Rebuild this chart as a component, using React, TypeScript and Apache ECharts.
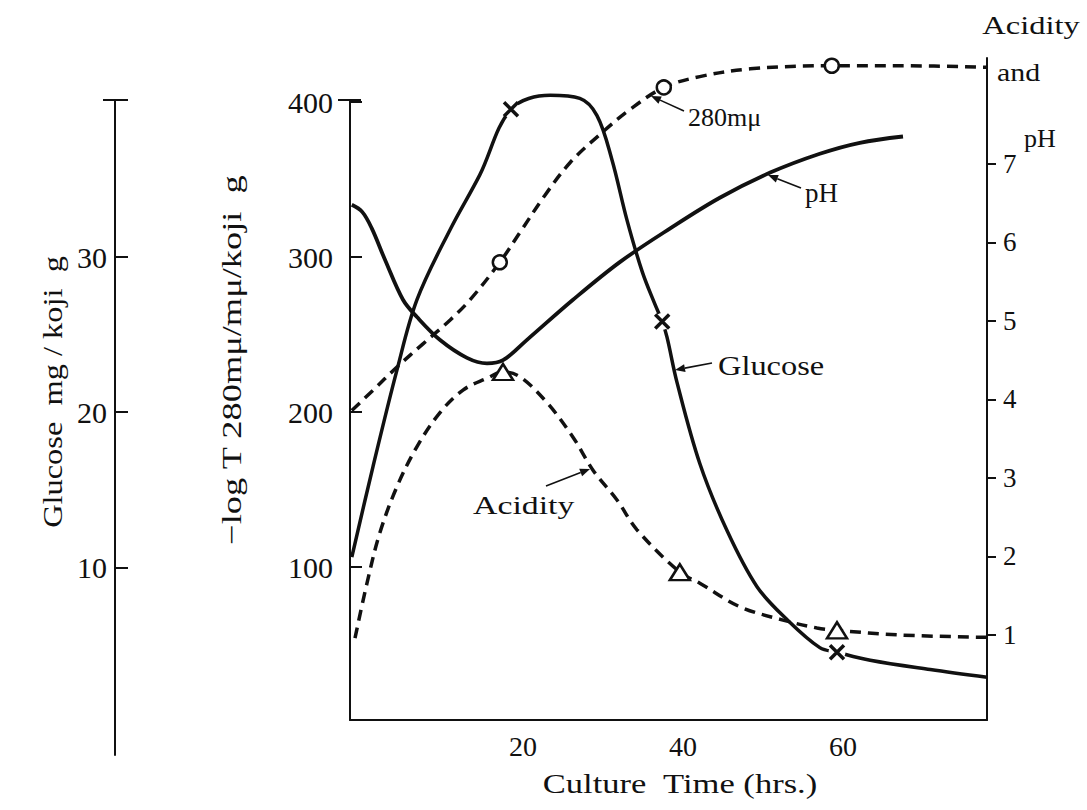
import React, { useEffect, useRef } from "react";
import * as echarts from "echarts";

// ---- data (culture time in hours, value) ----
const glucoseCurve: number[][] = [
  [-1.4, 10.64], [1.25, 16.48], [4.25, 22.72], [6.75, 27.25], [10.9, 31.78], [14.6, 35.3],
  [18.5, 39.53], [23.4, 40.43], [27.1, 40.23], [29.25, 39.12], [31.1, 36.31], [33.0, 32.38],
  [34.9, 29.06], [36.5, 26.94], [37.4, 25.84], [38.0, 24.83], [39.25, 21.91], [42.1, 16.68],
  [45.5, 12.35], [49.25, 8.73], [53.0, 6.61], [57.1, 4.8], [59.25, 4.5], [63.4, 3.99],
  [70.9, 3.39], [78.0, 2.89],
];
const glucoseMarks: number[][] = [[18.5, 39.53], [37.4, 25.84], [59.25, 4.5]];

const absorbCurve: number[][] = [
  [-1.4, 201], [1.25, 214], [4.25, 229], [7.5, 244], [10.9, 259.4], [13.4, 272.5],
  [17.1, 296.6], [19.6, 315.7], [22.75, 339.9], [25.9, 361], [29.6, 379], [33.4, 395.3],
  [37.6, 409.4], [42.1, 416.4], [48.4, 421.4], [58.6, 423.4], [67.1, 423.4], [78.0, 422.4],
];
const absorbMarks: number[][] = [[17.1, 296.6], [37.6, 409.4], [58.6, 423.4]];

const phCurve: number[][] = [
  [-1.4, 6.48], [-0.1, 6.39], [1.1, 6.18], [2.75, 5.78], [5.0, 5.27], [6.75, 5.05],
  [9.6, 4.76], [13.0, 4.53], [15.5, 4.46], [17.5, 4.5], [20.5, 4.76], [26.25, 5.27],
  [32.1, 5.75], [38.4, 6.18], [44.6, 6.57], [50.9, 6.89], [57.1, 7.13], [62.1, 7.27],
  [67.5, 7.35],
];

const acidityCurve: number[][] = [
  [-1.0, 0.96], [0.5, 1.66], [2.1, 2.3], [4.25, 2.89], [6.75, 3.4], [9.6, 3.83],
  [12.5, 4.12], [15.5, 4.27], [17.5, 4.35], [19.6, 4.29], [23.0, 3.96], [26.25, 3.52],
  [28.75, 3.1], [31.75, 2.72], [34.25, 2.34], [39.6, 1.8], [42.1, 1.66], [47.1, 1.36],
  [52.5, 1.19], [56.75, 1.09], [59.25, 1.06], [67.1, 1.0], [78.0, 0.97],
];
const acidityMarks: number[][] = [[17.5, 4.35], [39.6, 1.8], [59.25, 1.06]];

const xTickLabels = [20, 40, 60];
const absorbTicks = [100, 200, 300, 400];
const glucoseTicks = [10, 20, 30];
const phTicks = [1, 2, 3, 4, 5, 6, 7];

const FONT = "'Liberation Serif', 'DejaVu Serif', serif";
const INK = "#111";

function arrow(x1: number, y1: number, x2: number, y2: number) {
  const ang = Math.atan2(y2 - y1, x2 - x1);
  const L = 10, W = 4;
  const bx = x2 - L * Math.cos(ang), by = y2 - L * Math.sin(ang);
  const px = -Math.sin(ang) * W, py = Math.cos(ang) * W;
  return [
    { type: "line", shape: { x1, y1, x2: bx, y2: by }, style: { stroke: INK, lineWidth: 1.6 } },
    { type: "polygon", shape: { points: [[x2, y2], [bx + px, by + py], [bx - px, by - py]] }, style: { fill: INK } },
  ];
}

function txt(x: number, y: number, text: string, size: number, extra: any = {}) {
  const { style, ...rest } = extra;
  return {
    type: "text", x, y, ...rest,
    style: { text, fontSize: size, fontFamily: FONT, fill: INK, align: "center", verticalAlign: "middle", ...(style || {}) },
  };
}

export default function App() {
  const ref = useRef<HTMLDivElement>(null);
  useEffect(() => {
    if (!ref.current) return;
    const chart = echarts.init(ref.current, undefined, { renderer: "svg" });
    const axisLine = { show: true, onZero: false, lineStyle: { color: INK, width: 2 } };
    const label = (size: number, extra: any = {}) => ({ color: INK, fontFamily: FONT, fontSize: size, ...extra });
    chart.setOption({
      animation: false,
      backgroundColor: "#fff",
      grid: [
        { left: 350, right: 100, top: 58, bottom: 90 },
        { left: 350, right: 100, top: 100, bottom: 90 },
        { left: 115, width: 20, top: 100, bottom: 55 },
      ],
      xAxis: [
        {
          gridIndex: 0, type: "value", min: -1.625, max: 78,
          axisLine, axisTick: { show: false }, splitLine: { show: false },
          axisLabel: label(28, { customValues: xTickLabels, margin: 12 }),
        },
        { gridIndex: 1, type: "value", min: -1.625, max: 78, show: false },
        { gridIndex: 2, type: "value", min: 0, max: 1, show: false },
      ],
      yAxis: [
        {
          gridIndex: 0, type: "value", position: "right", min: -0.083, max: 8.35,
          axisLine, splitLine: { show: false },
          axisTick: { show: true, customValues: phTicks, length: 9, lineStyle: { color: INK, width: 2 } },
          axisLabel: label(27, { customValues: phTicks, margin: 16 }),
        },
        {
          gridIndex: 1, type: "value", position: "left", min: 1.3, max: 401.3,
          axisLine, splitLine: { show: false },
          axisTick: { show: true, inside: true, customValues: absorbTicks, length: 12, lineStyle: { color: INK, width: 2 } },
          axisLabel: label(30, { customValues: absorbTicks, margin: 17 }),
        },
        { gridIndex: 1, type: "value", min: 0.13, max: 40.13, show: false },
        {
          gridIndex: 2, type: "value", position: "left", min: -2.1, max: 40.13,
          axisLine, splitLine: { show: false },
          axisTick: { show: true, inside: true, customValues: [10, 20, 30], length: 13, lineStyle: { color: INK, width: 2 } },
          axisLabel: label(30, { customValues: glucoseTicks, margin: 8 }),
        },
      ],
      series: [
        {
          type: "line", xAxisIndex: 1, yAxisIndex: 2, data: glucoseCurve, smooth: 0.35, symbol: "none", clip: false,
          lineStyle: { color: INK, width: 3.5 }, z: 3,
        },
        {
          // white halo that breaks the glucose line around each marker
          type: "scatter", xAxisIndex: 1, yAxisIndex: 2, data: glucoseMarks, clip: false,
          symbol: "circle", symbolSize: 17, silent: true,
          itemStyle: { color: "#fff", opacity: 1 }, z: 4,
        },
        {
          type: "scatter", xAxisIndex: 1, yAxisIndex: 2, data: glucoseMarks, clip: false,
          symbol: "path://M0,0L10,10M10,0L0,10", symbolSize: 14,
          itemStyle: { color: "rgba(0,0,0,0)", borderColor: INK, borderWidth: 3.5, opacity: 1 }, z: 5,
        },
        {
          type: "line", xAxisIndex: 1, yAxisIndex: 1, data: absorbCurve, smooth: 0.35, symbol: "none", clip: false,
          lineStyle: { color: INK, width: 3.5, type: [11, 7] }, z: 3,
        },
        {
          type: "scatter", xAxisIndex: 1, yAxisIndex: 1, data: absorbMarks, clip: false,
          symbol: "circle", symbolSize: 14,
          itemStyle: { color: "#fff", borderColor: INK, borderWidth: 2.5, opacity: 1 }, z: 5,
        },
        {
          type: "line", xAxisIndex: 0, yAxisIndex: 0, data: phCurve, smooth: 0.35, symbol: "none", clip: false,
          lineStyle: { color: INK, width: 3.8 }, z: 3,
        },
        {
          type: "line", xAxisIndex: 0, yAxisIndex: 0, data: acidityCurve, smooth: 0.35, symbol: "none", clip: false,
          lineStyle: { color: INK, width: 3.5, type: [11, 7] }, z: 3,
        },
        {
          type: "scatter", xAxisIndex: 0, yAxisIndex: 0, data: acidityMarks, clip: false,
          symbol: "triangle", symbolSize: [20, 16],
          itemStyle: { color: "#fff", borderColor: INK, borderWidth: 2.5, opacity: 1 }, z: 5,
        },
      ],
      graphic: [
        // axis caps
        { type: "line", shape: { x1: 103, y1: 100, x2: 128, y2: 100 }, style: { stroke: INK, lineWidth: 2 } },
        { type: "line", shape: { x1: 338, y1: 100, x2: 361, y2: 100 }, style: { stroke: INK, lineWidth: 2 } },
        // axis titles
        txt(52, 392, "Glucose  mg / koji  g", 27, { rotation: Math.PI / 2, scaleX: 1.2 }),
        txt(232, 360, "−log T 280mμ/mμ/koji  g", 28, { rotation: Math.PI / 2, scaleX: 1.3 }),
        txt(680, 784, "Culture  Time (hrs.)", 27, { scaleX: 1.28 }),
        txt(1031, 25, "Acidity", 26, { scaleX: 1.25 }),
        txt(997, 72, "and", 26, { scaleX: 1.15, style: { align: "left" } }),
        txt(1024, 138, "pH", 26, { style: { align: "left" } }),
        // annotations
        txt(688, 117, "280mμ", 26, { style: { align: "left" } }),
        ...arrow(684, 111, 651, 96),
        txt(805, 193, "pH", 27, { style: { align: "left" } }),
        ...arrow(801, 188, 768, 175),
        txt(718, 365, "Glucose", 27, { scaleX: 1.2, style: { align: "left" } }),
        ...arrow(712, 363, 675, 370),
        txt(473, 505, "Acidity", 26, { scaleX: 1.3, style: { align: "left" } }),
        ...arrow(546, 486, 590, 469),
      ],
    });
    return () => chart.dispose();
  }, []);
  return <div ref={ref} style={{ position: "absolute", left: 0, top: 0, width: 1087, height: 810 }} />;
}
